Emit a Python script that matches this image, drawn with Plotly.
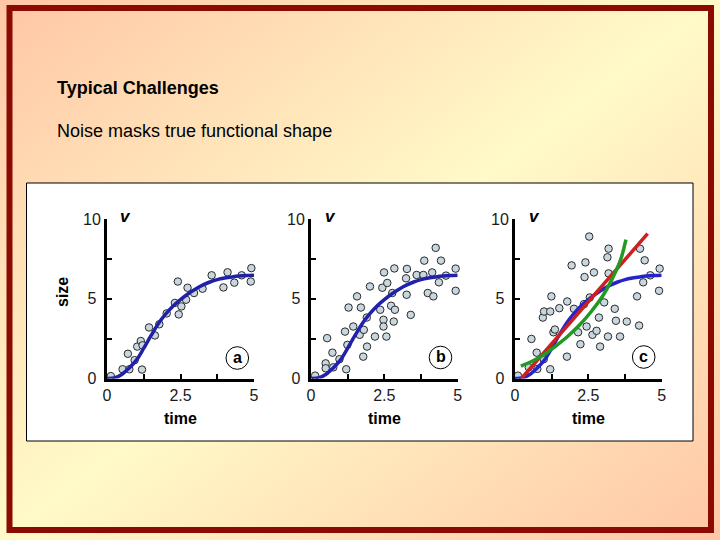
import base64
import plotly.graph_objects as go

W, H = 720, 540

# ---------------- data ----------------
a_x = [0.13, 0.53, 0.76, 0.71, 0.94, 1.03, 1.15, 1.21, 1.19, 1.43, 1.63, 1.78, 2.03, 2.31,
       2.44, 2.41, 2.53, 2.69, 2.74, 2.96, 3.25, 3.56, 3.96, 4.10, 4.33, 4.58, 4.89, 4.91]
a_y = [0.15, 0.58, 0.58, 1.55, 1.15, 2.00, 2.35, 2.08, 0.56, 3.20, 2.70, 3.40, 4.08, 4.74,
       4.02, 6.08, 4.52, 4.94, 5.69, 5.36, 5.63, 6.47, 5.71, 6.66, 6.01, 6.47, 6.08, 6.92]

b_x = [0.14, 0.50, 0.50, 0.55, 0.76, 0.73, 0.97, 1.20, 1.16, 1.24, 1.28, 1.44, 1.57, 1.70,
       1.66, 1.78, 1.80, 1.90, 1.91, 2.01, 2.18, 2.36, 2.43, 2.47, 2.47, 2.49, 2.60, 2.57,
       2.73, 2.77, 2.84, 2.86, 2.82, 3.24, 3.27, 3.26, 3.40, 3.60, 3.83, 3.86, 3.98, 4.13,
       4.17, 4.25, 4.43, 4.36, 4.60, 4.93, 4.93]
b_y = [0.18, 0.95, 0.64, 2.53, 0.70, 1.62, 1.21, 0.58, 2.94, 2.11, 4.45, 3.26, 5.15, 4.45,
       2.74, 1.37, 3.05, 3.82, 2.00, 5.77, 2.63, 4.31, 5.69, 3.68, 3.26, 6.65, 5.99, 2.63,
       4.56, 5.36, 6.90, 4.31, 3.57, 6.28, 6.87, 5.25, 3.99, 6.49, 6.49, 7.39, 5.36, 6.65,
       5.15, 8.19, 7.39, 6.03, 6.45, 6.89, 5.50]

c_x = [0.10, 0.47, 0.56, 0.74, 0.76, 0.98, 0.95, 0.99, 1.20, 1.20, 1.24, 1.31, 1.36, 1.51,
       1.77, 1.78, 1.93, 2.01, 2.15, 2.23, 2.37, 2.40, 2.44, 2.35, 2.53, 2.55, 2.64, 2.69,
       2.78, 2.90, 2.86, 3.04, 3.17, 3.15, 3.19, 3.19, 3.40, 3.44, 3.58, 3.81, 4.23, 4.16,
       4.26, 4.42, 4.37, 4.61, 4.93, 4.91]
c_y = [0.18, 0.70, 2.48, 1.62, 0.60, 1.21, 3.82, 4.20, 4.20, 0.58, 5.15, 2.90, 3.07, 4.41,
       1.37, 4.83, 7.09, 4.37, 2.90, 2.15, 6.36, 7.28, 3.26, 4.66, 8.90, 5.08, 2.74, 6.65,
       2.99, 2.00, 3.82, 4.77, 2.63, 7.60, 8.14, 6.59, 4.37, 3.62, 2.63, 3.57, 3.32, 5.15,
       8.14, 7.41, 6.03, 6.47, 6.89, 5.50]

# true functional shape (blue)
true_x = [0, 0.25, 0.5, 0.75, 1.0, 1.25, 1.5, 1.75, 2.0, 2.25, 2.5, 2.75, 3.0, 3.25, 3.5,
          3.75, 4.0, 4.25, 4.5, 4.75, 5.0]
true_y = [0, 0.03, 0.25, 0.65, 1.15, 1.9, 2.7, 3.45, 4.05, 4.55, 4.95, 5.3, 5.6, 5.85,
          6.05, 6.2, 6.3, 6.37, 6.42, 6.45, 6.47]

# linear fit (red) and curved fit (green) in panel c
lin_x = [0.22, 4.52]
lin_y = [0.0, 9.08]
grn_x = [0.2, 0.6, 1.0, 1.4, 1.8, 2.2, 2.6, 3.0, 3.3, 3.6, 3.78]
grn_y = [0.78, 1.1, 1.5, 2.05, 2.65, 3.35, 4.2, 5.2, 6.2, 7.45, 8.7]

x_tickvals = [0, 1.25, 2.5, 3.75, 5]
x_ticktext = ["0", "", "2.5", "", "5"]
y_tickvals = [0, 2.5, 5, 7.5, 10]
y_ticktext = ["0\u00a0", "", "5\u00a0", "", "10"]

panel_letters = ["a", "b", "c"]

# ---------------- layout helpers ----------------
FONT = "Liberation Sans, Arial, sans-serif"


def px(x):
    return x / W


def py(y):
    return 1 - y / H


panel_x_px = [(107, 254), (311, 457.7), (515, 661.7)]
panel_y_px = (378.5, 219)
letter_circles = [(237.3, 358), (440.5, 357.5), (643.7, 357)]
v_pos = [126, 330.5, 534]

fig = go.Figure()

panels = [(a_x, a_y), (b_x, b_y), (c_x, c_y)]
MARKER = dict(size=7.5, color="#c8d6de", line=dict(color="#2a2a2a", width=1))
BLUES = ["#2121a8", "#2121ac", "#2424c8"]

for i, (sx, sy) in enumerate(panels):
    xa = "x" if i == 0 else f"x{i+1}"
    ya = "y" if i == 0 else f"y{i+1}"
    fig.add_trace(go.Scatter(x=sx, y=sy, mode="markers", marker=MARKER,
                             xaxis=xa, yaxis=ya, cliponaxis=False, showlegend=False,
                             hoverinfo="skip"))
    fig.add_trace(go.Scatter(x=true_x, y=true_y, mode="lines",
                             line=dict(color=BLUES[i], width=3.5, shape="spline"),
                             xaxis=xa, yaxis=ya, showlegend=False, hoverinfo="skip"))
    if i == 2:
        fig.add_trace(go.Scatter(x=lin_x, y=lin_y, mode="lines",
                                 line=dict(color="#cc1f1f", width=3.5),
                                 xaxis=xa, yaxis=ya, showlegend=False, hoverinfo="skip"))
        fig.add_trace(go.Scatter(x=grn_x, y=grn_y, mode="lines",
                                 line=dict(color="#229922", width=3.5, shape="spline"),
                                 xaxis=xa, yaxis=ya, showlegend=False, hoverinfo="skip"))

axis_common = dict(showgrid=False, zeroline=False, showline=True, linecolor="black",
                   linewidth=3, ticks="inside", tickcolor="black", tickwidth=1.5,
                   ticklen=5, tickfont=dict(family=FONT, size=16, color="#1a1a1a"),
                   fixedrange=True, automargin=False)

layout_axes = {}
for i in range(3):
    sfx = "" if i == 0 else str(i + 1)
    x0, x1 = panel_x_px[i]
    layout_axes["xaxis" + sfx] = dict(axis_common, domain=[px(x0), px(x1)], range=[0, 5],
                                      tickmode="array", tickvals=x_tickvals,
                                      ticktext=x_ticktext, anchor="y" + sfx)
    layout_axes["yaxis" + sfx] = dict(axis_common, domain=[py(panel_y_px[0]), py(panel_y_px[1])],
                                      range=[0, 10], tickmode="array", tickvals=y_tickvals,
                                      ticktext=y_ticktext, anchor="x" + sfx)

# background gradient (decoration)
svg = f'''<svg xmlns="http://www.w3.org/2000/svg" width="{W}" height="{H}" viewBox="0 0 {W} {H}" preserveAspectRatio="none">
<defs><linearGradient id="g" x1="0" y1="0" x2="1" y2="1">
<stop offset="0" stop-color="#ffc6a6"/>
<stop offset="0.5" stop-color="#fffac8"/>
<stop offset="1" stop-color="#ffc6a6"/>
</linearGradient></defs>
<rect x="0" y="0" width="{W}" height="{H}" fill="url(#g)"/>
</svg>'''
src = "data:image/svg+xml;base64," + base64.b64encode(svg.encode()).decode()

shapes = [
    dict(type="rect", xref="paper", yref="paper", x0=px(9.5), x1=px(711), y0=py(530), y1=py(8),
         line=dict(color="#8b0a04", width=6), fillcolor="rgba(0,0,0,0)", layer="below"),
    dict(type="rect", xref="paper", yref="paper", x0=px(26.5), x1=px(693), y0=py(441), y1=py(183),
         line=dict(color="black", width=1), fillcolor="white", layer="below"),
]
for (cx, cy) in letter_circles:
    shapes.append(dict(type="circle", xref="paper", yref="paper", xsizemode="pixel",
                       ysizemode="pixel", xanchor=px(cx), yanchor=py(cy),
                       x0=-11.3, x1=11.3, y0=-11.3, y1=11.3,
                       line=dict(color="black", width=1), fillcolor="white"))

annotations = [
    dict(text="<b>Typical Challenges</b>", x=px(55), y=py(88), xanchor="left", yanchor="middle",
         font=dict(family=FONT, size=18, color="black")),
    dict(text="Noise masks true functional shape", x=px(55), y=py(130.5), xanchor="left",
         yanchor="middle", font=dict(family=FONT, size=18, color="black")),
    dict(text="<b>size</b>", x=px(62), y=py(292), xanchor="center", yanchor="middle",
         textangle=-90, font=dict(family=FONT, size=16, color="black")),
]
for i in range(3):
    x0, x1 = panel_x_px[i]
    annotations.append(dict(text="<b>time</b>", x=px((x0 + x1) / 2), y=py(418),
                            xanchor="center", yanchor="middle",
                            font=dict(family=FONT, size=16, color="black")))
    annotations.append(dict(text="<b><i>v</i></b>", x=px(v_pos[i]), y=py(216),
                            xanchor="center", yanchor="middle",
                            font=dict(family=FONT, size=17, color="black")))
    cx, cy = letter_circles[i]
    annotations.append(dict(text=f"<b>{panel_letters[i]}</b>", x=px(cx), y=py(cy - 1),
                            xanchor="center", yanchor="middle",
                            font=dict(family=FONT, size=16, color="black")))
for a in annotations:
    a.update(xref="paper", yref="paper", showarrow=False)

fig.update_layout(
    width=W, height=H, autosize=False,
    margin=dict(l=0, r=0, t=0, b=0, pad=0, autoexpand=False),
    paper_bgcolor="#ffe6bf", plot_bgcolor="rgba(0,0,0,0)",
    images=[dict(source=src, xref="paper", yref="paper", x=0, y=1, sizex=1, sizey=1,
                 sizing="stretch", xanchor="left", yanchor="top", layer="below")],
    shapes=shapes, annotations=annotations, showlegend=False,
    **layout_axes,
)

fig.write_html("out.html")
